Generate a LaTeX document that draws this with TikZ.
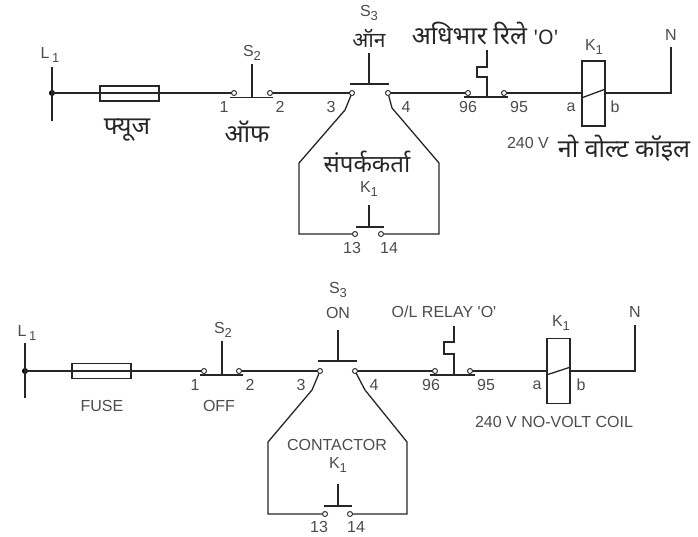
\documentclass[tikz,border=0pt]{standalone}
\usepackage{fontspec}
\setmainfont{Liberation Sans}
\newfontfamily\hindifont[Script=Devanagari]{Noto Sans}
\usetikzlibrary{positioning}
\newcommand{\subs}[1]{\raisebox{-.4ex}{\fontsize{13}{13}\selectfont #1}}
\newcommand{\qt}{\textquotesingle}
\tikzset{wire/.style={line width=1.3pt,black!85,line join=miter}}
\tikzset{term/.style={circle,draw=black!80,fill=white,line width=1pt,inner sep=0pt,minimum size=5pt}}
\tikzset{lab/.style={inner sep=0pt,text=black!70,font=\fontsize{16}{16}\selectfont}}
\tikzset{hin/.style={inner sep=0pt,text=black!85,font=\hindifont\fontsize{25}{25}\selectfont}}
\tikzset{fuse/.style={draw,wire,inner sep=0pt,minimum width=59pt,minimum height=15pt}}
\tikzset{coil/.style={draw,wire,inner sep=0pt,minimum width=23pt,minimum height=65pt}}
\tikzset{on grid,node distance=14pt}

\begin{document}
\begin{tikzpicture}[x=1pt,y=-1pt]
    \useasboundingbox (0,0) rectangle (698,536);
    % upper circuit
    \fill[black] (52,93) circle (3pt) coordinate (a0);
    \coordinate (al) at (52,67); \coordinate (am) at (52,121);
    \coordinate (as2a) at (230,97.5); \coordinate (as2b) at (273,97.5);
    \coordinate (as2m) at (252,97.5); \coordinate (as2t) at (252,64);
    \coordinate (as3a) at (350,84); \coordinate (as3b) at (389,84);
    \coordinate (as3m) at (369,84); \coordinate (as3t) at (369,53);
    \coordinate (ak1a) at (356,227); \coordinate (ak1b) at (384,227);
    \coordinate (ak1m) at (369,227); \coordinate (ak1t) at (369,205);
    \coordinate (aola) at (464,97); \coordinate (aolb) at (508,97);
    \coordinate (aolm) at (487,97); \coordinate (aolt) at (487,50);
    \coordinate (an) at (671,47);
    \draw[wire] (as2a) -- (as2b) (as2m) -- (as2t);
    \draw[wire] (as3a) -- (as3b) (as3m) -- (as3t);
    \draw[wire] (ak1a) -- (ak1b) (ak1m) -- (ak1t);
    \draw[wire] (aola) -- (aolb);
    \draw[wire] (aolm) -- (487,77) -- (477,77) -- (477,67) -- (487,67) -- (aolt);
    \draw[wire] (al) -- (am);
    \draw[wire] (a0) -- (234,93) coordinate (a1c);
    \draw[wire] (270,93) coordinate (a2c) -- (352,93) coordinate (a3c);
    \draw[wire] (388,93) coordinate (a4c) -- (468,93) coordinate (a96c);
    \draw[wire] (504,93) coordinate (a95c) -- (582,93);
    \draw[wire] (605,93) -| (an);
    \draw[wire] (a3c) -- (345,110) -- (299,163) -- (299,234) -- (355,234) coordinate (a13c);
    \draw[wire] (381,234) coordinate (a14c) -- (439,234) -- (439,163) -- (392,108) -- (a4c);
    \node[fuse] (afuse) at (129.5,93.5) {};
    \node[coil] (acoil) at (593.5,93.5) {};
    \draw[wire] (acoil.west |- 0,98) -- (acoil.east |- 0,89);
    \node[term] (a1) at (a1c) {};
    \node[term] (a2) [right=36pt of a1] {};
    \node[term] (a3) at (a3c) {};
    \node[term] (a4) [right=36pt of a3] {};
    \node[term] (a96) at (a96c) {};
    \node[term] (a95) [right=36pt of a96] {};
    \node[term] (a13) at (a13c) {};
    \node[term] (a14) [right=26pt of a13] {};
    \node[lab] (al1) at (50,55) {L\,\subs{1}};
    \node[lab] (as2) at (252,53) {S\subs{2}};
    \node[lab] (as3) at (369,13) {S\subs{3}};
    \node[lab] (ak1) at (369,189) {K\subs{1}};
    \node[lab] (ak2) at (594,47) {K\subs{1}};
    \node[lab] (an1) at (671,35) {N};
    \node[lab] (a1l) [below left=14pt and 10pt of a1] {1};
    \node[lab] (a2l) [below right=14pt and 10pt of a2] {2};
    \node[lab] (a3l) [below left=14pt and 21pt of a3] {3};
    \node[lab] (a4l) [below right=14pt and 18pt of a4] {4};
    \node[lab] (a96l) [below=14pt of a96] {96};
    \node[lab] (a95l) [below right=14pt and 15pt of a95] {95};
    \node[lab] (a13l) [below left=14pt and 3pt of a13] {13};
    \node[lab] (a14l) [below right=14pt and 8pt of a14] {14};
    \node[lab] (aal) at (571,107) {a};
    \node[lab] (abl) at (615,107) {b};
    \node[lab] (a240) at (528,143) {240 V};
    \node[hin] (afl) at (127,130) {फ्यूज};
    \node[hin] (aof) at (247,132) {ऑफ};
    \node[hin,font=\hindifont\fontsize{21}{21}\selectfont] (aon) at (369,38) {ऑन};
    \node[hin,font=\hindifont\fontsize{24}{24}\selectfont] (aco) at (367,162) {संपर्ककर्ता};
    \node[hin] (are) at (485,33) {अधिभार रिले {\fontsize{20}{20}\selectfont\qt O\qt}};
    \node[hin] (anv) at (624,148) {नो वोल्ट कॉइल};
    % lower circuit
    \fill[black] (25,371) circle (3pt) coordinate (b0);
    \coordinate (bl) at (25,343); \coordinate (bm) at (25,398);
    \coordinate (bs2a) at (200,375); \coordinate (bs2b) at (243,375);
    \coordinate (bs2m) at (222,375); \coordinate (bs2t) at (222,341);
    \coordinate (bs3a) at (318,361); \coordinate (bs3b) at (357,361);
    \coordinate (bs3m) at (338,361); \coordinate (bs3t) at (338,330);
    \coordinate (bk1a) at (324,506); \coordinate (bk1b) at (352,506);
    \coordinate (bk1m) at (338,506); \coordinate (bk1t) at (338,484);
    \coordinate (bola) at (430,375); \coordinate (bolb) at (475,375);
    \coordinate (bolm) at (454,375); \coordinate (bolt) at (454,326);
    \coordinate (bn) at (635,325);
    \draw[wire] (bs2a) -- (bs2b) (bs2m) -- (bs2t);
    \draw[wire] (bs3a) -- (bs3b) (bs3m) -- (bs3t);
    \draw[wire] (bk1a) -- (bk1b) (bk1m) -- (bk1t);
    \draw[wire] (bola) -- (bolb);
    \draw[wire] (bolm) -- (454,354) -- (444,354) -- (444,342) -- (454,342) -- (bolt);
    \draw[wire] (bl) -- (bm);
    \draw[wire] (b0) -- (204,371) coordinate (b1c);
    \draw[wire] (239,371) coordinate (b2c) -- (320,371) coordinate (b3c);
    \draw[wire] (355,371) coordinate (b4c) -- (435,371) coordinate (b96c);
    \draw[wire] (470,371) coordinate (b95c) -- (547,371);
    \draw[wire] (570,371) -| (bn);
    \draw[wire] (b3c) -- (312,390) -- (268,442) -- (268,514) -- (325,514) coordinate (b13c);
    \draw[wire] (350,514) coordinate (b14c) -- (407,514) -- (407,442) -- (365,390) -- (b4c);
    \node[fuse] (bfuse) at (101.5,371) {};
    \node[coil] (bcoil) at (558.5,371) {};
    \draw[wire] (bcoil.west |- 0,375) -- (bcoil.east |- 0,367);
    \node[term] (b1) at (b1c) {};
    \node[term] (b2) [right=35pt of b1] {};
    \node[term] (b3) at (b3c) {};
    \node[term] (b4) [right=35pt of b3] {};
    \node[term] (b96) at (b96c) {};
    \node[term] (b95) [right=35pt of b96] {};
    \node[term] (b13) at (b13c) {};
    \node[term] (b14) [right=25pt of b13] {};
    \node[lab] (bl1) at (27,333) {L\,\subs{1}};
    \node[lab] (bs2) at (223,330) {S\subs{2}};
    \node[lab] (bs3) at (338,290) {S\subs{3}};
    \node[lab] (bk1) at (338,465) {K\subs{1}};
    \node[lab] (bk2) at (561,323) {K\subs{1}};
    \node[lab] (bn1) at (635,312) {N};
    \node[lab] (b1l) [below left=14pt and 9pt of b1] {1};
    \node[lab] (b2l) [below right=14pt and 11pt of b2] {2};
    \node[lab] (b3l) [below left=14pt and 19pt of b3] {3};
    \node[lab] (b4l) [below right=14pt and 19pt of b4] {4};
    \node[lab] (b96l) [below left=14pt and 4pt of b96] {96};
    \node[lab] (b95l) [below right=14pt and 16pt of b95] {95};
    \node[lab] (b13l) [below left=13pt and 6pt of b13] {13};
    \node[lab] (b14l) [below right=13pt and 6pt of b14] {14};
    \node[lab] (bal) at (537,385) {a};
    \node[lab] (bbl) at (581,385) {b};
    \node[lab] (bfl) at (102,406) {FUSE};
    \node[lab] (bof) at (219,406) {OFF};
    \node[lab] (bon) at (338,313) {ON};
    \node[lab] (bco) at (337,445) {CONTACTOR};
    \node[lab] (bre) at (444,312) {O/L RELAY \qt O\qt};
    \node[lab] (bnv) at (554,422) {240 V NO-VOLT COIL};
\end{tikzpicture}
\end{document}
